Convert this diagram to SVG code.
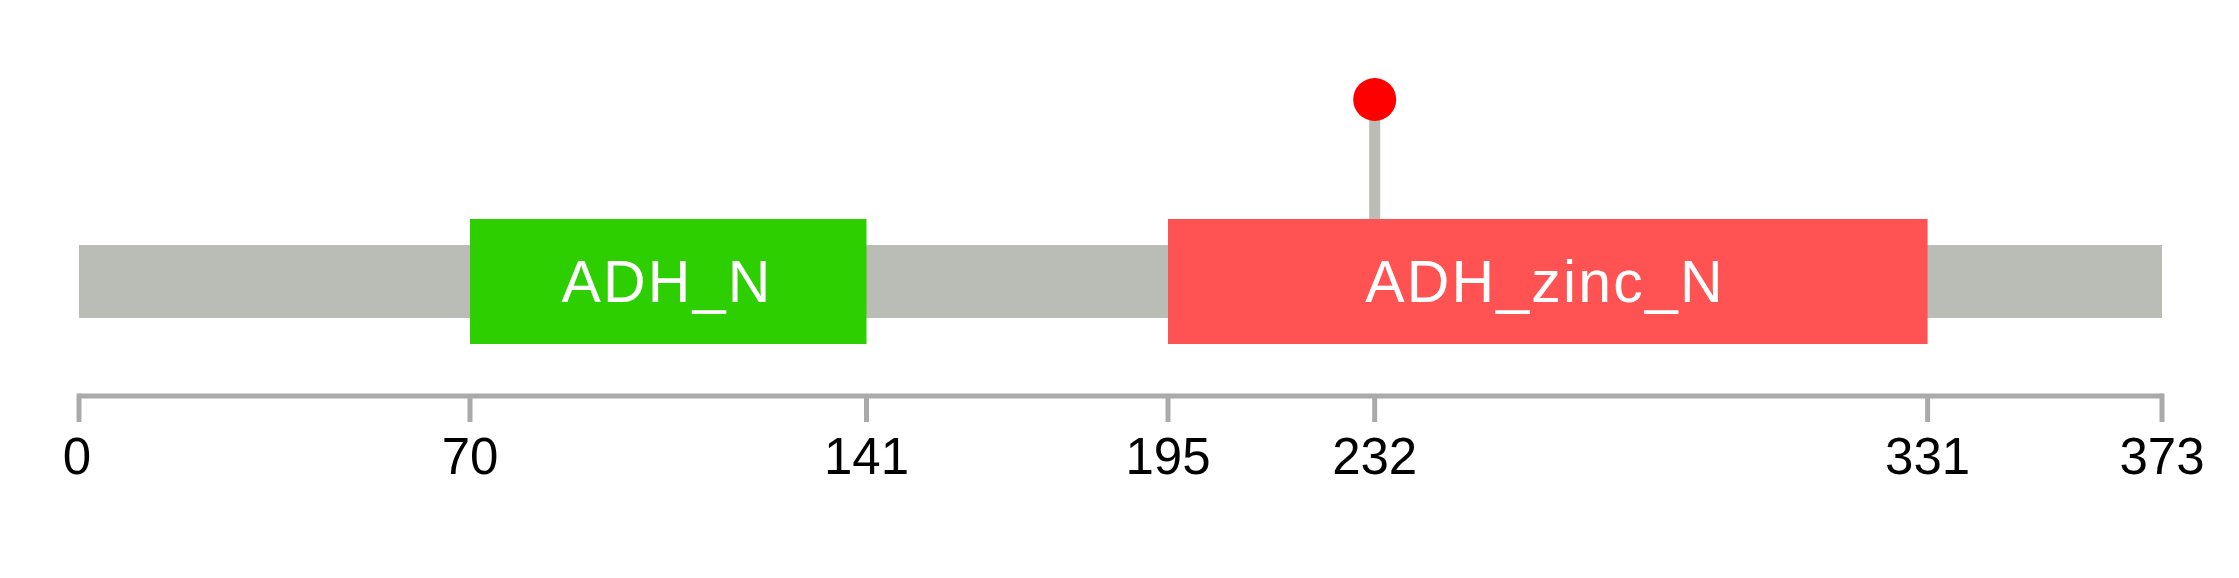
<svg xmlns="http://www.w3.org/2000/svg" width="2239" height="578" viewBox="0 0 2239 578">
<style>
.lbl{font-family:"Liberation Sans",Arial,sans-serif;font-size:51px;fill:#000;text-anchor:middle}
.dom{font-family:"Liberation Sans",Arial,sans-serif;font-size:59px;letter-spacing:2.2px;fill:#fff;text-anchor:middle}
.tick{stroke:#aaaaaa;stroke-width:5}
</style>
<rect width="2239" height="578" fill="#fff"/>
<g id="backbone"><rect x="79" y="245" width="2083" height="73" fill="#babdb6"/></g>
<g id="connectors">
<line x1="1374.7" y1="110" x2="1374.7" y2="219" stroke="#babdb6" stroke-width="11"/>
</g>
<g id="mutation-232"><circle cx="1374.7" cy="99.5" r="21.5" fill="#ff0000"/></g>
<g id="ADH_N">
<rect x="470" y="219" width="396.5" height="125" fill="#2ecf00"/>
<text class="dom" x="667" y="301.5">ADH_N</text>
</g>
<g id="ADH_zinc_N">
<rect x="1168" y="219" width="759.6" height="125" fill="#ff5353"/>
<text class="dom" x="1545" y="301.5">ADH_zinc_N</text>
</g>
<g id="axis">
<line class="tick" x1="79" y1="396" x2="2162" y2="396"/>
<line class="tick" x1="79" y1="393.5" x2="79" y2="422"/>
<line class="tick" x1="470" y1="396" x2="470" y2="422"/>
<line class="tick" x1="866.5" y1="396" x2="866.5" y2="422"/>
<line class="tick" x1="1168" y1="396" x2="1168" y2="422"/>
<line class="tick" x1="1374.7" y1="396" x2="1374.7" y2="422"/>
<line class="tick" x1="1927.6" y1="396" x2="1927.6" y2="422"/>
<line class="tick" x1="2162" y1="393.5" x2="2162" y2="422"/>
<text class="lbl" x="77" y="474">0</text>
<text class="lbl" x="470" y="474">70</text>
<text class="lbl" x="866.5" y="474">141</text>
<text class="lbl" x="1168" y="474">195</text>
<text class="lbl" x="1374.7" y="474">232</text>
<text class="lbl" x="1927.6" y="474">331</text>
<text class="lbl" x="2162" y="474">373</text>
</g>
</svg>
